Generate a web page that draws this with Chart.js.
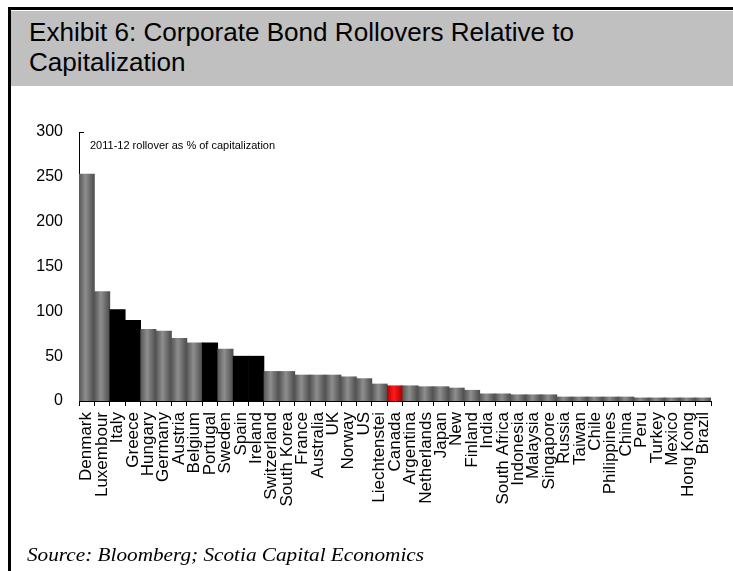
<!DOCTYPE html>
<html>
<head>
<meta charset="utf-8">
<script src="https://cdn.jsdelivr.net/npm/chart.js@4/dist/chart.umd.min.js"></script>
<style>
  body { margin: 0; background: #fff; }
  #page { position: relative; width: 733px; height: 571px; overflow: hidden; }
  #frameTop { position: absolute; left: 8px; top: 7px; width: 725px; height: 3px; background: #000; }
  #frameLeft { position: absolute; left: 8px; top: 7px; width: 3px; height: 564px; background: #000; }
  #header { position: absolute; left: 11px; top: 11px; width: 722px; height: 75px; background: #c0c0c0; }
  #title {
    position: absolute; left: 29px; top: 17px;
    font-family: "Liberation Sans Narrow", "Arial Narrow", "Liberation Sans", Arial, sans-serif;
    font-size: 25px; line-height: 30px; color: #000;
    display: inline-block; white-space: nowrap; transform-origin: 0 0;
  }
  #source {
    position: absolute; left: 27px; top: 545px;
    font-family: "Liberation Serif", "Times New Roman", serif; font-style: italic;
    font-size: 18px; line-height: 20px; color: #000;
    display: inline-block; white-space: nowrap; transform-origin: 0 0;
  }
  #chart { position: absolute; left: 0; top: 0; }
</style>
</head>
<body>
<div id="page">
  <div id="header"></div>
  <div id="frameTop"></div>
  <div id="frameLeft"></div>
  <div id="title">Exhibit 6: Corporate Bond Rollovers Relative to<br>Capitalization</div>
  <canvas id="chart" width="733" height="571"></canvas>
  <div id="source">Source: Bloomberg; Scotia Capital Economics</div>
</div>
<script>
// dati: rollover 2011-12 in % della capitalizzazione
const countries = ['Denmark', 'Luxembour', 'Italy', 'Greece', 'Hungary', 'Germany', 'Austria', 'Belgium',
  'Portugal', 'Sweden', 'Spain', 'Ireland', 'Switzerland', 'South Korea', 'France', 'Australia', 'UK',
  'Norway', 'US', 'Liechtenstei', 'Canada', 'Argentina', 'Netherlands', 'Japan', 'New', 'Finland', 'India',
  'South Africa', 'Indonesia', 'Malaysia', 'Singapore', 'Russia', 'Taiwan', 'Chile', 'Philippines', 'China',
  'Peru', 'Turkey', 'Mexico', 'Hong Kong', 'Brazil'];
const rollover = [253, 122, 102, 90, 80, 78, 70, 65, 65, 58, 50, 50, 33, 33, 29, 29, 29, 27, 25, 19,
  17, 17, 16, 16, 14.5, 12, 8, 8, 7, 7, 7, 4.5, 4.5, 4.5, 4.5, 4.5, 3.5, 3.5, 3.5, 3.5, 3.5];
const peripheryGroup = ['Italy', 'Greece', 'Portugal', 'Spain', 'Ireland'];
const homeCountry = ['Canada'];
const yTicks = [0, 50, 100, 150, 200, 250, 300];
const noteText = '2011-12 rollover as % of capitalization';

// allarga titolo e fonte alla larghezza vista nell'immagine
function stretchTo(el, target) {
  const w = el.getBoundingClientRect().width;
  if (w > 0) el.style.transform = 'scaleX(' + (target / w) + ')';
}
stretchTo(document.getElementById('title'), 545);
stretchTo(document.getElementById('source'), 397);

// sfumatura orizzontale a "cilindro" per ogni barra
function barFill(context) {
  const chart = context.chart;
  const name = countries[context.dataIndex];
  if (peripheryGroup.includes(name)) return '#000000';
  const x = chart.scales.x;
  const stops = homeCountry.includes(name)
    ? ['#b80000', '#ff1a1a', '#a80000']
    : ['#575757', '#8e8e8e', '#4c4c4c'];
  if (!x || !isFinite(x.getPixelForValue(context.dataIndex))) return stops[1];
  const half = (x.right - x.left) / countries.length / 2;
  const cx = x.getPixelForValue(context.dataIndex);
  const g = chart.ctx.createLinearGradient(cx - half, 0, cx + half, 0);
  g.addColorStop(0, stops[0]);
  g.addColorStop(0.42, stops[1]);
  g.addColorStop(1, stops[2]);
  return g;
}

// tacche dell'asse y rivolte verso l'interno + nota in alto
const innerTicks = {
  id: 'innerTicks',
  beforeDatasetsDraw(chart) {
    const { ctx, scales: { y } } = chart;
    ctx.save();
    ctx.strokeStyle = '#000';
    ctx.lineWidth = 1;
    y.ticks.forEach(t => {
      const py = Math.round(y.getPixelForValue(t.value)) + 0.5;
      ctx.beginPath();
      ctx.moveTo(y.right, py);
      ctx.lineTo(y.right + 5, py);
      ctx.stroke();
    });
    ctx.restore();
  },
  afterDraw(chart) {
    const { ctx, chartArea } = chart;
    ctx.save();
    ctx.fillStyle = '#000';
    ctx.font = '11px "Liberation Sans", Arial, sans-serif';
    ctx.textBaseline = 'alphabetic';
    ctx.fillText(noteText, chartArea.left + 11, chartArea.top + 17);
    ctx.restore();
  }
};

new Chart(document.getElementById('chart'), {
  type: 'bar',
  data: {
    labels: countries,
    datasets: [{
      data: rollover,
      backgroundColor: barFill,
      borderWidth: 0,
      barPercentage: 1,
      categoryPercentage: 1
    }]
  },
  options: {
    responsive: false,
    animation: false,
    devicePixelRatio: 1,
    layout: { padding: { top: 132, right: 22, left: 0, bottom: 0 } },
    plugins: { legend: { display: false }, tooltip: { enabled: false } },
    scales: {
      x: {
        afterFit: s => { s.height = 170; },
        border: { display: true, color: '#000', width: 1 },
        grid: { display: true, drawOnChartArea: false, drawTicks: true, tickLength: 5, color: '#000', offset: true },
        ticks: {
          autoSkip: false, maxRotation: 90, minRotation: 90, padding: 6, color: '#000',
          font: { family: '"Liberation Sans", Arial, sans-serif', size: 17 }
        }
      },
      y: {
        min: 0, max: 300,
        afterFit: s => { s.width = 79; },
        afterBuildTicks: s => { s.ticks = yTicks.map(v => ({ value: v })); },
        border: { display: true, color: '#000', width: 1 },
        grid: { display: false, drawTicks: false },
        ticks: {
          padding: 16, color: '#000',
          font: { family: '"Liberation Sans", Arial, sans-serif', size: 16 }
        }
      }
    }
  },
  plugins: [innerTicks]
});
</script>
</body>
</html>
